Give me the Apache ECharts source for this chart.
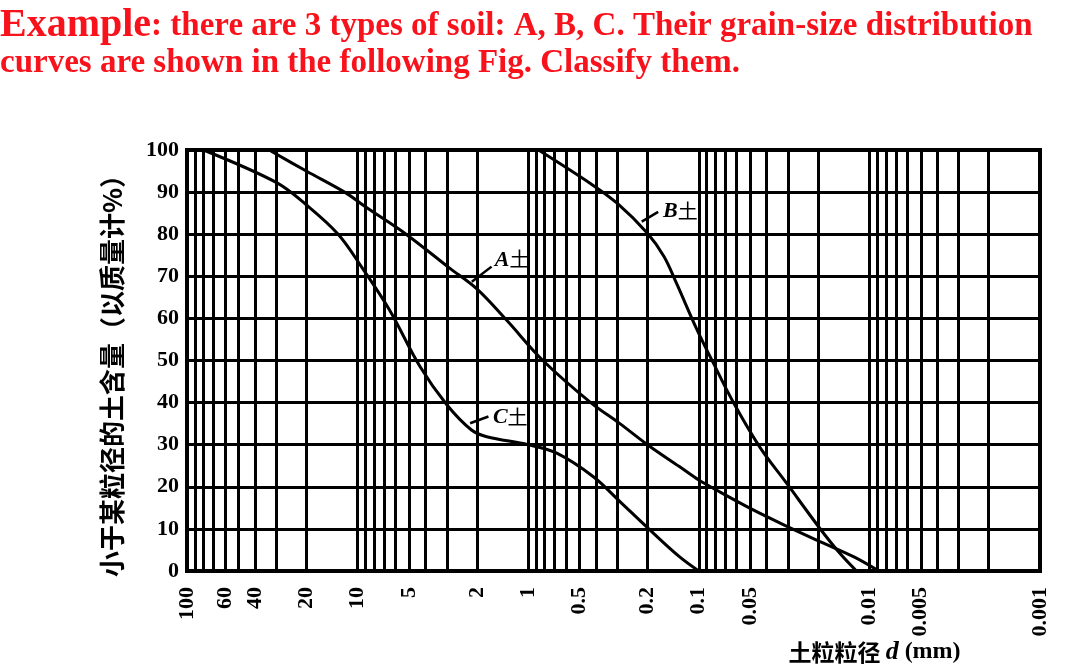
<!DOCTYPE html>
<html>
<head>
<meta charset="utf-8">
<title>grain-size distribution</title>
<script src="https://cdn.jsdelivr.net/npm/echarts@6.0.0/dist/echarts.min.js"></script>
<style>
  html, body { margin: 0; padding: 0; background: #fff; }
  #chart { width: 1090px; height: 667px; }
</style>
</head>
<body>
<div id="chart"></div>
<script>
// 粒径 d (mm) 与 小于该粒径的土含量 (%)
const sizeA = [33, 20, 11.6, 9, 5.2, 2.9, 2.0, 1.34, 0.82, 0.43, 0.29, 0.2, 0.13, 0.1, 0.082, 0.048, 0.03, 0.0195, 0.0124, 0.0088]
const passA = [100, 95, 89.7, 86.5, 80, 72, 67, 59.6, 50, 40, 35, 30, 24.8, 21.6, 19.6, 14.5, 10.5, 7, 3.4, 0]

const sizeB = [0.87, 0.43, 0.3, 0.2, 0.16, 0.135, 0.103, 0.082, 0.063, 0.044, 0.0305, 0.0195, 0.0149, 0.0119]
const passB = [100, 92, 87.3, 80.2, 74.7, 68.3, 57.5, 49.3, 40.2, 29.5, 20.8, 10.1, 4.2, 0]

const sizeC = [80, 30, 20, 13, 9.4, 6.5, 4.3, 3.0, 2.15, 1.75, 1.0, 0.68, 0.415, 0.29, 0.2, 0.13, 0.1]
const passC = [100, 92.3, 87, 80, 72, 62, 48.5, 39.5, 33.5, 31.9, 30, 28, 22.4, 16.5, 10.3, 3.4, 0]

// 横轴刻度文字与竖向网格线
const xLabelValues = [100, 60, 40, 20, 10, 5, 2, 1, 0.5, 0.2, 0.1, 0.05, 0.01, 0.005, 0.001]
const xGridValues = [
  90, 80, 70, 60, 50, 40, 30, 20, 10,
  9, 8, 7, 6, 5, 4, 3, 2, 1,
  0.9, 0.8, 0.7, 0.6, 0.5, 0.4, 0.3, 0.2, 0.1,
  0.09, 0.08, 0.07, 0.06, 0.05, 0.04, 0.03, 0.02, 0.01,
  0.009, 0.008, 0.007, 0.006, 0.005, 0.004, 0.003, 0.002
]

// 曲线标注 (A土 / B土 / C土)：引线两端与文字位置，数据坐标
const tagNames = ['A', 'B', 'C']
const tagFrom = [[2.14, 68.7], [0.216, 83.0], [2.19, 35.1]]
const tagTo = [[1.64, 72.3], [0.173, 85.3], [1.71, 36.7]]
const tagText = [[1.57, 73.9], [0.162, 85.5], [1.61, 36.6]]

const SERIF = '"Liberation Serif", "Times New Roman", serif'
const CJK = '"Noto Sans CJK SC", sans-serif'
const RED = '#f8121c'

const tagRich = {
  it: { fontFamily: SERIF, fontStyle: 'italic', fontWeight: 'bold', fontSize: 22, color: '#000' },
  cn: { fontFamily: CJK, fontSize: 20, color: '#000' }
}

const toPairs = (xs, ys) => xs.map((x, i) => [x, ys[i]])

const curve = (k, xs, ys) => ({
  name: tagNames[k] + '土',
  type: 'line',
  data: toPairs(xs, ys),
  smooth: 0.35,
  symbol: 'none',
  silent: true,
  z: 5,
  lineStyle: { color: '#000', width: 3 },
  markLine: {
    silent: true,
    symbol: ['arrow', 'none'],
    symbolSize: [9, 0],
    label: { show: false },
    lineStyle: { color: '#000', width: 2.5, type: 'solid' },
    data: [[{ coord: tagFrom[k] }, { coord: tagTo[k] }]]
  },
  markPoint: {
    silent: true,
    symbol: 'circle',
    symbolSize: 0,
    data: [{ coord: tagText[k] }],
    label: {
      show: true,
      position: 'right',
      distance: 0,
      formatter: '{it|' + tagNames[k] + '}{cn|土}',
      rich: tagRich
    }
  }
})

const myChart = echarts.init(document.getElementById('chart'))

myChart.setOption({
  backgroundColor: '#fff',
  animation: false,
  title: {
    text: '{big|Example}{mid|: there are 3 types of soil: A, B, C. Their grain-size distribution}\n{mid|curves are shown in the following Fig. Classify them.}',
    left: 0,
    top: 7,
    padding: 0,
    textStyle: {
      rich: {
        big: { fontFamily: SERIF, fontWeight: 'bold', fontSize: 40, color: RED, lineHeight: 38 },
        mid: { fontFamily: SERIF, fontWeight: 'bold', fontSize: 33, color: RED, lineHeight: 36 }
      }
    }
  },
  grid: {
    left: 187,
    top: 150,
    width: 853,
    height: 421,
    show: true,
    borderColor: '#000',
    borderWidth: 4,
    containLabel: false,
    outerBoundsMode: 'none'
  },
  xAxis: {
    type: 'log',
    logBase: 10,
    min: 0.001,
    max: 100,
    inverse: true,
    name: '{cn|土粒粒径 }{it|d}{en| (mm)}',
    nameLocation: 'middle',
    nameGap: 68,
    nameMoveOverlap: false,
    nameTextStyle: {
      padding: [0, 0, 0, 522],
      rich: {
        cn: { fontFamily: CJK, fontWeight: 'bold', fontSize: 23, color: '#000' },
        it: { fontFamily: SERIF, fontStyle: 'italic', fontWeight: 'bold', fontSize: 26, color: '#000' },
        en: { fontFamily: SERIF, fontWeight: 'bold', fontSize: 24, color: '#000' }
      }
    },
    axisLine: { show: false },
    axisTick: { show: false, customValues: xGridValues },
    axisLabel: {
      customValues: xLabelValues,
      rotate: 90,
      margin: 16,
      fontFamily: SERIF,
      fontWeight: 'bold',
      fontSize: 22,
      color: '#000',
      formatter: v => String(v)
    },
    splitLine: { show: true, lineStyle: { color: '#000', width: 3 } },
    minorTick: { show: false },
    minorSplitLine: { show: false }
  },
  yAxis: {
    type: 'value',
    min: 0,
    max: 100,
    interval: 10,
    name: '小于某粒径的土含量（以质量计%）',
    nameLocation: 'middle',
    nameRotate: 90,
    nameGap: 62,
    nameMoveOverlap: false,
    nameTextStyle: {
      fontFamily: CJK,
      fontWeight: 'bold',
      fontSize: 26,
      color: '#000',
      padding: [0, 18, 0, 0]
    },
    axisLine: { show: false },
    axisTick: { show: false },
    axisLabel: {
      margin: 8,
      fontFamily: SERIF,
      fontWeight: 'bold',
      fontSize: 22,
      color: '#000'
    },
    splitLine: { show: true, lineStyle: { color: '#000', width: 3 } }
  },
  series: [
    curve(0, sizeA, passA),
    curve(1, sizeB, passB),
    curve(2, sizeC, passC)
  ]
})
</script>
</body>
</html>
